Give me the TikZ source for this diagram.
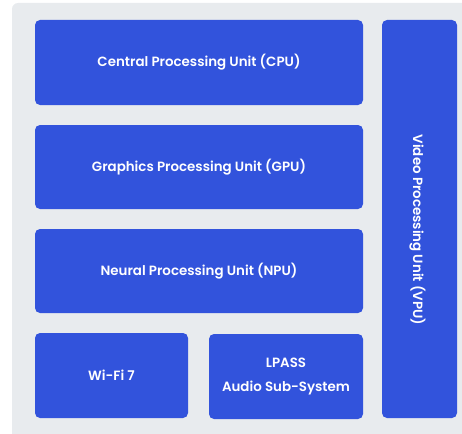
\documentclass[tikz,border=0pt]{standalone}
\usepackage{fontspec}
\setmainfont{Poppins}[BoldFont={Poppins SemiBold}]
\usepackage{tikz}
\usetikzlibrary{positioning}
\definecolor{unitblue}{HTML}{3253DC}
\definecolor{boardgray}{HTML}{E8EBEE}
\tikzstyle{chip}=[
  x=1pt,y=-1pt,font=\fontsize{13.4}{24}\selectfont\bfseries
]
\tikzstyle{unit}=[
  fill=unitblue,text=white,rounded corners=5pt,inner sep=0pt,align=center
]

\begin{document}
\begin{tikzpicture}[chip]
    \useasboundingbox (0,0) rectangle (462,433);
    % board
    \fill[boardgray,rounded corners=6pt] (12,3) rectangle (470,440);
    % main units
    \node[unit,minimum width=328pt,minimum height=85pt] (cpu) at (199,62.5) {Central Processing Unit (CPU)};
    \node[unit,minimum width=328pt,minimum height=84pt] (gpu) at (199,167) {Graphics Processing Unit (GPU)};
    \node[unit,minimum width=328pt,minimum height=84pt] (npu) at (199,271) {Neural Processing Unit (NPU)};
    % bottom row
    \node[unit,minimum width=153pt,minimum height=85pt] (wifi) at (111.5,375.5) {Wi-Fi 7};
    \node[unit,minimum width=154pt,minimum height=85pt] (lpass) at (286,376.5) {LPASS\\Audio Sub-System};
    % side unit
    \node[unit,minimum width=75pt,minimum height=398pt] (vpu) at (419.5,219) {};
    \node[text=white,rotate=-90,inner sep=0pt] (vpulabel) at ([xshift=-2pt,yshift=-11pt]vpu.center) {Video Processing Unit (VPU)};
\end{tikzpicture}
\end{document}
